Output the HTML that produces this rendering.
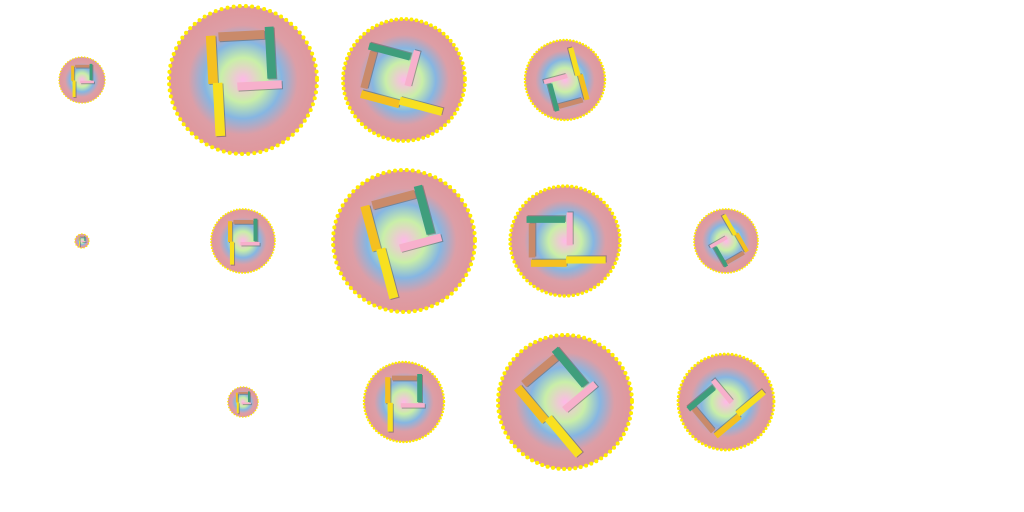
<!DOCTYPE html>
<html><head><meta charset="utf-8"><style>
html,body{margin:0;padding:0;background:#fff;width:1024px;height:512px;overflow:hidden;font-family:"Liberation Sans",sans-serif}
</style></head><body>
<svg id="chart" width="1024" height="512" xmlns="http://www.w3.org/2000/svg">
<defs>
<radialGradient id="bg" cx="0.5" cy="0.5" r="0.5">
<stop offset="0" stop-color="#ffb8e8"/>
<stop offset="0.3" stop-color="#c9efa8"/>
<stop offset="0.52" stop-color="#86b6e2"/>
<stop offset="0.74" stop-color="#dd9ea6"/>
<stop offset="1" stop-color="#e0979c"/>
</radialGradient>
</defs>
</svg>
<script>
const rows = [0, 1, 2];
const cols = [0, 1, 2, 3, 4];
const values = [
  [5.3, 54.8, 37.2, 16, 0],
  [0.5, 10.2, 50.4, 30.2, 10.2],
  [0, 2.3, 16, 44.9, 23]
];
const angles = [
  [0, -3, -75, 165, 0],
  [0, 0, -15, -90, 150],
  [0, 0, 0, -40, -130]
];
const svg = document.getElementById('chart');
const NS = 'http://www.w3.org/2000/svg';
const xScale = c => 82 + c * 161;
const yScale = r => 80 + r * 161;
const rScale = v => 10 * Math.sqrt(v);
function mk(tag, attrs, parent) {
  const e = document.createElementNS(NS, tag);
  for (const k in attrs) e.setAttribute(k, attrs[k]);
  parent.appendChild(e);
  return e;
}
const bars = [
  {x:-0.47,y:-0.62,w:0.13,h:0.65,c:'#f5c020'},
  {x:-0.41,y:0.02,w:0.13,h:0.72,c:'#f8e020'},
  {x:-0.3,y:-0.66,w:0.62,h:0.12,c:'#c98a6a'},
  {x:0.33,y:-0.7,w:0.12,h:0.7,c:'#3f9e7c'},
  {x:-0.08,y:0.03,w:0.6,h:0.11,c:'#f7b0cc'}
];
rows.forEach(ri => cols.forEach(ci => {
  const v = values[ri][ci];
  if (!v) return;
  const r = rScale(v);
  const g = mk('g', {transform:`translate(${xScale(ci)},${yScale(ri)})`}, svg);
  
  
  mk('circle', {r:r, fill:'url(#bg)'}, g);
  const ring = mk('circle', {r:r, fill:'none', stroke:'#ffee00', 'stroke-width':Math.max(1.5, Math.min(4, r/16)), 'stroke-dasharray':`0 ${Math.max(3, r/12)}`, 'stroke-linecap':'round'}, g);
  
  
  const inner = mk('g', {transform:`rotate(${angles[ri][ci]})`}, g);
  bars.forEach(b => {
    mk('rect', {x:b.x*r+1, y:b.y*r+1, width:b.w*r, height:b.h*r, fill:'#555', opacity:0.5}, inner);
    mk('rect', {x:b.x*r, y:b.y*r, width:b.w*r, height:b.h*r, fill:b.c}, inner);
  });
}));
</script>
</body></html>
